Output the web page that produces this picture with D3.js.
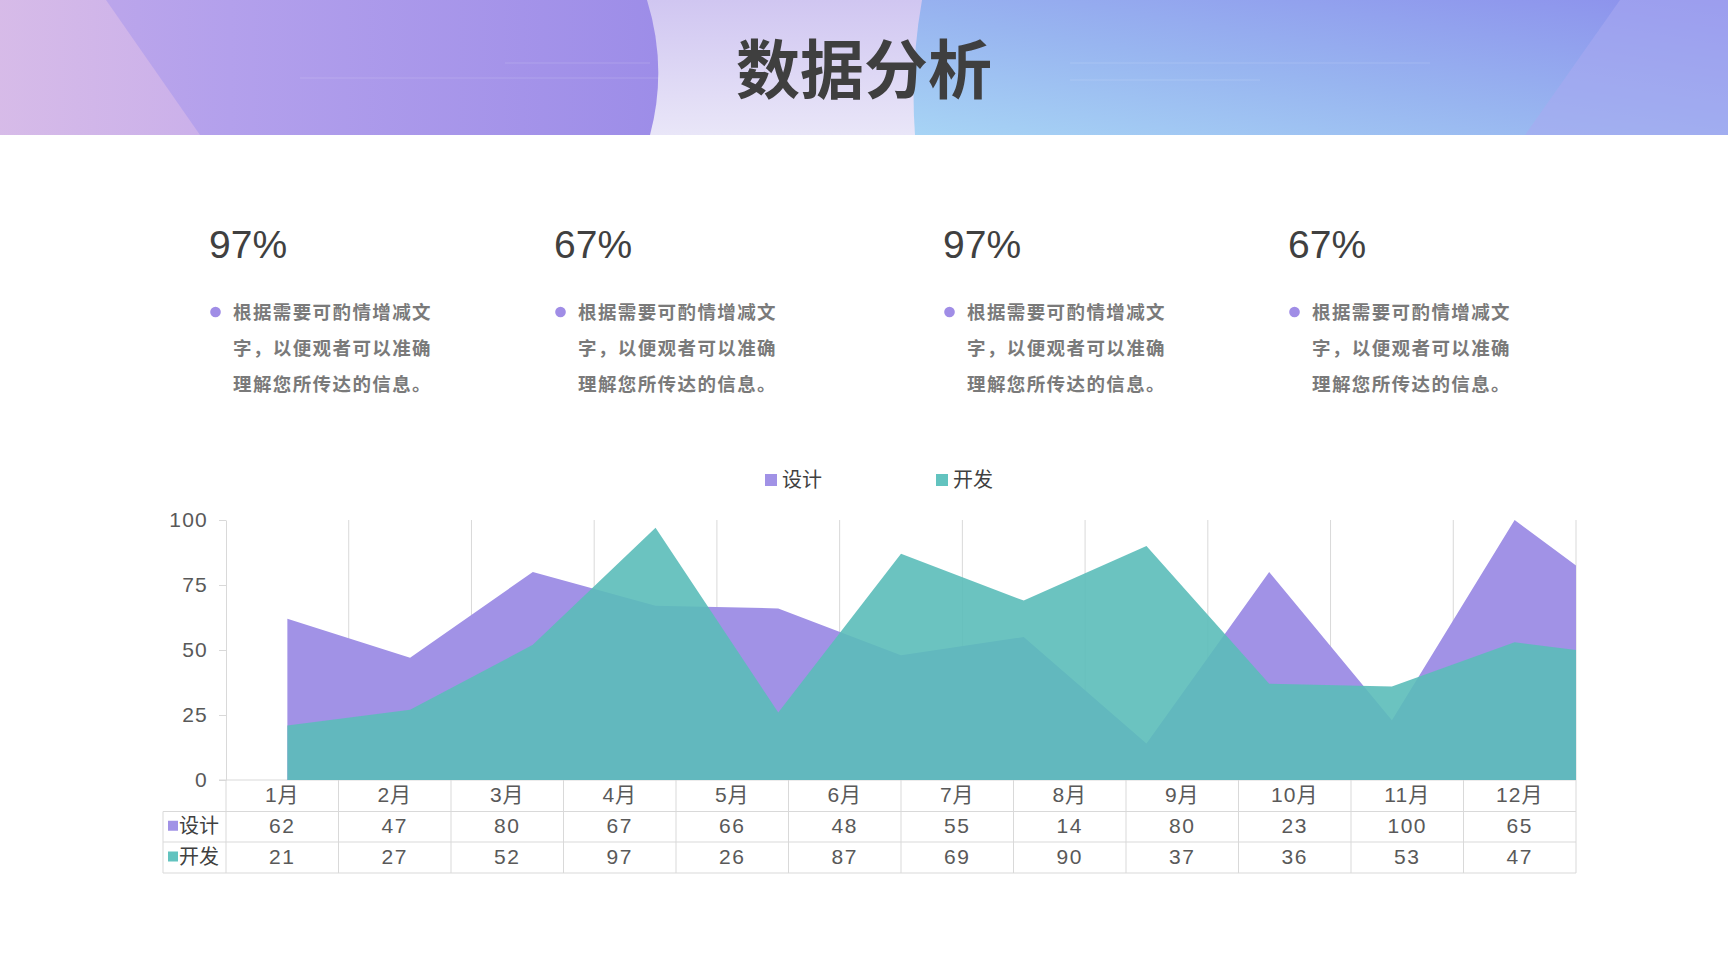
<!DOCTYPE html>
<html><head><meta charset="utf-8">
<script src="https://cdn.jsdelivr.net/npm/d3@7"></script>
<style>
html,body{margin:0;padding:0;background:#fff;overflow:hidden;}
svg{display:block;}
</style></head>
<body>
<svg id="c" width="1728" height="972"></svg>
<script>
// ---------- data ----------
const title = "数据分析";
const months = ["1月","2月","3月","4月","5月","6月","7月","8月","9月","10月","11月","12月"];
const seriesNames = ["设计","开发"];
const design = [62,47,80,67,66,48,55,14,80,23,100,65];
const dev = [21,27,52,97,26,87,69,90,37,36,53,47];
const yTicks = [0,25,50,75,100];
const statValues = ["97%","67%","97%","67%"];
const statLines = ["根据需要可酌情增减文","字，以便观者可以准确","理解您所传达的信息。"];
const colors = ["#a192e6","#5bbdb9"];

(function(){
const svg = d3.select("#c");
const CJK = "'Noto Sans CJK SC','Noto Sans',sans-serif";
const NUM = "'Liberation Sans','Noto Sans CJK SC',sans-serif";
const defs = svg.append("defs");

function lg(id, x1,y1,x2,y2, stops){
  const g = defs.append("linearGradient").attr("id",id)
    .attr("x1",x1).attr("y1",y1).attr("x2",x2).attr("y2",y2);
  stops.forEach(s=>g.append("stop").attr("offset",s[0]).attr("stop-color",s[1]));
}
lg("gMid","0","0","0","1",[[0,"#d0c6f1"],[1,"#e9e6f8"]]);
lg("gLeft","0","0","1","0",[[0,"#c2aaea"],[0.35,"#b3a0ec"],[1,"#9d8de8"]]);
lg("gLeftTri","0","0","1","0",[[0,"#d9bde8"],[1,"#cdb2ea"]]);
lg("gRight","0","1","1","0",[[0,"#a7d4f5"],[0.45,"#98b5f0"],[1,"#8c8fec"]]);

// ---------- header ----------
const H = 135;
svg.append("rect").attr("x",0).attr("y",0).attr("width",1728).attr("height",H).attr("fill","url(#gMid)");
svg.append("path").attr("d",`M0,0 L647,0 Q668,${H/2} 650,${H} L0,${H} Z`).attr("fill","url(#gLeft)");
svg.append("path").attr("d",`M0,0 L106,0 L200,${H} L0,${H} Z`).attr("fill","url(#gLeftTri)").attr("opacity",0.9);
svg.append("path").attr("d",`M922,0 L1728,0 L1728,${H} L915,${H} Q910,${H/2} 922,0 Z`).attr("fill","url(#gRight)");
svg.append("path").attr("d",`M1620,0 L1728,0 L1728,${H} L1525,${H} Z`).attr("fill","#a9aaf0").attr("opacity",0.55);
[[300,660,78],[505,650,63],[1070,1430,63],[1070,1260,80]].forEach(l=>{
  svg.append("line").attr("x1",l[0]).attr("x2",l[1]).attr("y1",l[2]).attr("y2",l[2])
    .attr("stroke","#ffffff").attr("stroke-opacity",0.1).attr("stroke-width",1.5);
});
svg.append("text").text(title).attr("x",864).attr("y",93).attr("text-anchor","middle")
  .attr("font-family",CJK).attr("font-weight","bold").attr("font-size",64).attr("fill","#3f3f3f");

// ---------- stat blocks ----------
const statX = [209,554,943,1288];
statValues.forEach((v,i)=>{
  const g = svg.append("g").attr("transform",`translate(${statX[i]},0)`);
  g.append("text").text(v).attr("x",0).attr("y",258).attr("font-family",NUM)
    .attr("font-size",39).attr("fill","#404040");
  g.append("circle").attr("cx",6.5).attr("cy",312).attr("r",5.3).attr("fill","#a08de6");
  statLines.forEach((s,j)=>{
    g.append("text").text(s).attr("x",24).attr("y",313+j*36).attr("dy","0.35em")
      .attr("font-family",CJK).attr("font-weight","bold").attr("font-size",18.5)
      .attr("letter-spacing",1.4).attr("fill","#7a7a7a");
  });
});

// ---------- legend ----------
const legX = [765,936];
seriesNames.forEach((n,i)=>{
  svg.append("rect").attr("x",legX[i]).attr("y",474).attr("width",12).attr("height",12).attr("fill",i?"#62c3bf":colors[0]);
  svg.append("text").text(n).attr("x",legX[i]+17).attr("y",480).attr("dy","0.35em")
    .attr("font-family",CJK).attr("font-size",20).attr("fill","#404040");
});

// ---------- chart ----------
const pL = 226, pR = 1576, pT = 520, pB = 780;
const x = d3.scaleLinear().domain([-0.5, 10.5]).range([pL, pR]);
const y = d3.scaleLinear().domain([0,100]).range([pB, pT]);

defs.append("clipPath").attr("id","plotClip").append("rect")
  .attr("x",pL).attr("y",pT-5).attr("width",pR-pL).attr("height",pB-pT+5);

const grid = d3.range(0,11).map(k=>k+0.5);
svg.append("g").selectAll("line").data(grid).join("line")
  .attr("x1",d=>x(d)).attr("x2",d=>x(d)).attr("y1",pT).attr("y2",pB)
  .attr("stroke","#d9d9d9").attr("stroke-width",1);

const yAxis = svg.append("g").attr("transform",`translate(${pL},0)`)
  .call(d3.axisLeft(y).tickValues(yTicks).tickSize(7).tickSizeOuter(0).tickPadding(11));
yAxis.select(".domain").attr("stroke","#d9d9d9");
yAxis.selectAll(".tick line").attr("stroke","#d9d9d9");
yAxis.selectAll(".tick text").attr("font-family",NUM).attr("font-size",21)
  .attr("letter-spacing",1.2).attr("fill","#595959");
svg.append("line").attr("x1",pL-7).attr("x2",pR).attr("y1",pB).attr("y2",pB)
  .attr("stroke","#d9d9d9");

const area = d3.area().x((d,i)=>x(i)).y0(y(0)).y1(d=>y(d));
const plot = svg.append("g").attr("clip-path","url(#plotClip)");
plot.append("path").datum(design).attr("d",area).attr("fill",colors[0]);
plot.append("path").datum(dev).attr("d",area).attr("fill",colors[1]).attr("opacity",0.9);

// ---------- data table ----------
const xb = d3.scaleBand().domain(months).range([pL, pR]);
const rowY = [780, 811.5, 842, 873];
const tb = svg.append("g");
const stroke = "#d9d9d9";
[1,2,3].forEach(r=>{
  tb.append("line").attr("x1",163).attr("x2",pR).attr("y1",rowY[r]).attr("y2",rowY[r]).attr("stroke",stroke);
});
tb.append("line").attr("x1",163).attr("x2",163).attr("y1",rowY[1]).attr("y2",rowY[3]).attr("stroke",stroke);
tb.selectAll("line.v").data(months).join("line").attr("class","v")
  .attr("x1",d=>xb(d)).attr("x2",d=>xb(d)).attr("y1",rowY[0]).attr("y2",rowY[3]).attr("stroke",stroke);
tb.append("line").attr("x1",pR).attr("x2",pR).attr("y1",rowY[0]).attr("y2",rowY[3]).attr("stroke",stroke);
tb.selectAll("text.m").data(months).join("text").attr("class","m").text(d=>d)
  .attr("x",d=>xb(d)+xb.bandwidth()/2).attr("y",(rowY[0]+rowY[1])/2).attr("dy","0.3em")
  .attr("text-anchor","middle").attr("font-family",NUM).attr("font-size",21)
  .attr("letter-spacing",1).attr("fill","#595959");
[design, dev].forEach((vals,r)=>{
  const cy = (rowY[r+1]+rowY[r+2])/2;
  tb.append("rect").attr("x",168).attr("y",cy-6).attr("width",10).attr("height",10).attr("fill",r?"#62c3bf":colors[0]);
  tb.append("text").text(seriesNames[r]).attr("x",179).attr("y",cy).attr("dy","0.3em")
    .attr("font-family",CJK).attr("font-size",20).attr("fill","#404040");
  tb.selectAll(null).data(vals).join("text").text(d=>d)
    .attr("x",(d,i)=>xb(months[i])+xb.bandwidth()/2).attr("y",cy).attr("dy","0.3em")
    .attr("text-anchor","middle").attr("font-family",NUM).attr("font-size",21)
    .attr("letter-spacing",1.5).attr("fill","#595959");
});
})();
</script>
</body></html>
